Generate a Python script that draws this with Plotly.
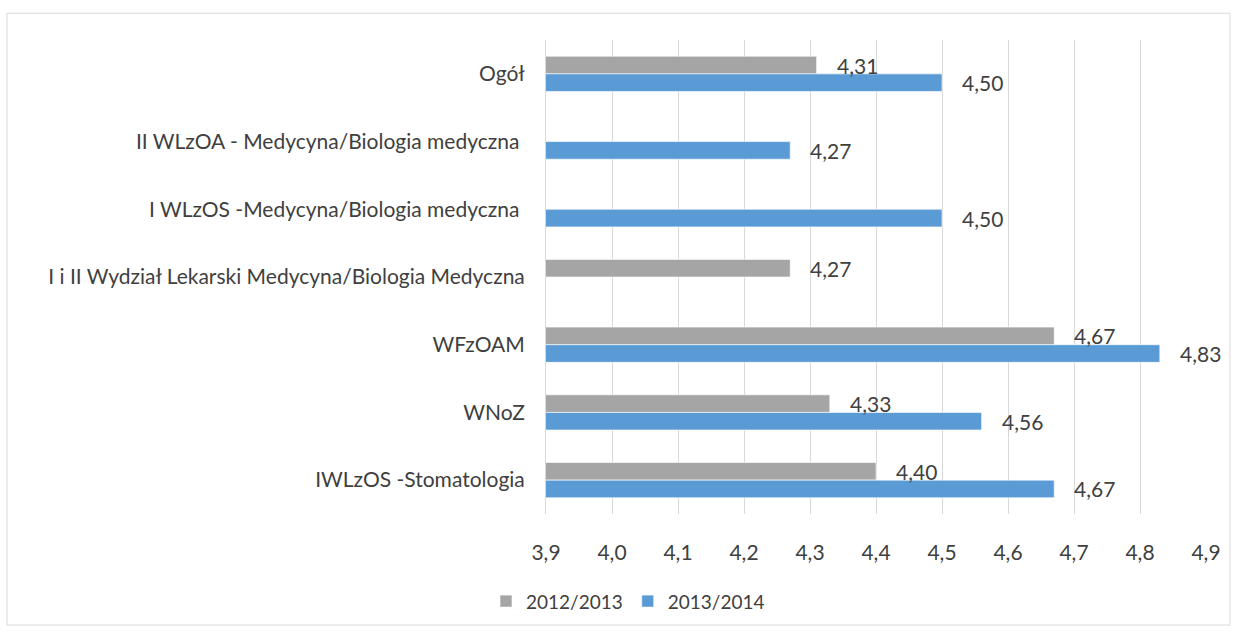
import plotly.graph_objects as go

categories = [
    "Ogół",
    "II WLzOA - Medycyna/Biologia medyczna ",
    "I WLzOS -Medycyna/Biologia medyczna ",
    "I i II Wydział Lekarski Medycyna/Biologia Medyczna",
    "WFzOAM",
    "WNoZ",
    "IWLzOS -Stomatologia",
]
series_names = ["2012/2013", "2013/2014"]
values_2012 = [4.31, None, None, 4.27, 4.67, 4.33, 4.40]
values_2013 = [4.50, 4.27, 4.50, None, 4.83, 4.56, 4.67]
colors = ["#A5A5A5", "#5B9BD5"]

FONT = "Lato"
TXT = "#404040"
FS = 21

# plot-area geometry (pixels)
L, R, T, B = 546, 1206, 40, 518
W, H = 1237, 632

fig = go.Figure()
for name, vals, col in zip(series_names, [values_2012, values_2013], colors):
    fig.add_trace(go.Bar(
        y=categories, x=vals, name=name, orientation="h",
        marker=dict(color=col, line=dict(color="rgba(255,255,255,0.6)", width=1)),
    ))

bargap = 0.48
w = (1 - bargap) / 2
annotations = []
for s, vals in enumerate([values_2012, values_2013]):
    off = -w / 2 if s == 0 else w / 2
    for i, v in enumerate(vals):
        if v is None:
            continue
        annotations.append(dict(
            x=v, y=i + off, xref="x", yref="y", text=f"{v:.2f}".replace(".", ","),
            showarrow=False, xanchor="left", yanchor="middle", xshift=18, yshift=0,
            font=dict(family=FONT, size=FS, color=TXT),
        ))

def px_x(p):
    return (p - L) / (R - L)

def px_y(p):
    return (B - p) / (B - T)

fig.update_layout(
    width=W, height=H,
    margin=dict(l=L, r=W - R, t=T, b=H - B),
    paper_bgcolor="white", plot_bgcolor="white",
    barmode="group", bargap=bargap,
    separators=", ",
    font=dict(family=FONT, size=FS, color=TXT),
    annotations=annotations,
    showlegend=True,
    legend=dict(orientation="h", x=px_x(628), xanchor="center", y=px_y(606), yanchor="middle",
                font=dict(family=FONT, size=19, color=TXT), itemwidth=30,
                traceorder="normal"),
    xaxis=dict(range=[3.9, 4.9], dtick=0.1, tick0=3.9, tickformat=".1f",
               showgrid=True, gridcolor="#D9D9D9", gridwidth=1, zeroline=False,
               showline=False, ticks="", ticklabelstandoff=24,
               tickfont=dict(family=FONT, size=FS, color=TXT)),
    yaxis=dict(autorange="reversed", showgrid=False, showline=True, linecolor="#D9D9D9",
               linewidth=1, ticks="", ticklabelstandoff=16,
               tickfont=dict(family=FONT, size=FS, color=TXT)),
    shapes=[dict(type="rect", xref="paper", yref="paper",
                 x0=px_x(7), x1=px_x(1230), y0=px_y(630), y1=px_y(13),
                 line=dict(color="#D9D9D9", width=1), fillcolor="rgba(0,0,0,0)", layer="below")],
)

fig.write_html("out.html", config={"displayModeBar": False},
               post_script="document.body.style.margin='0px';")
